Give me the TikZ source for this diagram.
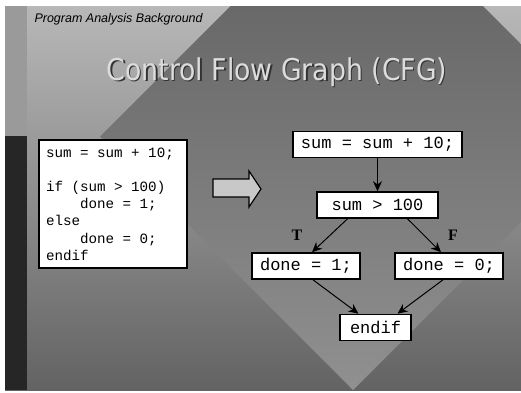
\documentclass[tikz,border=0pt]{standalone}
\usepackage{fontspec}
\setmainfont{Liberation Sans}
\setmonofont{Liberation Mono}
\newfontfamily\titlefont{DejaVu Sans}
\newfontfamily\branchfont{Liberation Serif}
\usetikzlibrary{arrows.meta}
\definecolor{slidelight}{RGB}{194,194,194}
\definecolor{slidedark}{RGB}{70,70,70}
\definecolor{diamtop}{RGB}{92,92,92}
\definecolor{diambot}{RGB}{144,144,144}
\definecolor{stripgray}{RGB}{154,154,154}
\definecolor{stripdark}{RGB}{38,38,38}
\definecolor{titlegray}{RGB}{220,220,220}
\definecolor{blockgray}{RGB}{200,200,200}
% align=left shrinks spaces, so the listing sets them back to full width
\newcommand\codespaces{\spaceskip=0.6em\xspaceskip=0.6em\relax}
\tikzset{
  titletext/.style={anchor=base, font=\titlefont\fontsize{30}{36}\selectfont},
  codebox/.style={draw=black, line width=1.6pt, fill=white, align=left,
    font=\ttfamily\fontsize{14.2}{17.2}\selectfont, text width=134pt,
    inner xsep=7pt, minimum height=128pt},
  cfgnode/.style={draw=black, line width=1.6pt, fill=white, inner xsep=8pt,
    minimum height=26pt, font=\ttfamily\fontsize{17}{20}\selectfont},
  cfgarr/.style={-{Stealth[length=10pt,width=9pt]}, line width=1pt},
  branch/.style={font=\branchfont\bfseries\fontsize{16}{19}\selectfont}
}

\begin{document}
\begin{tikzpicture}[x=1pt, y=-1pt]
\useasboundingbox (0,0) rectangle (521,392);
\fill[white] (0,0) rectangle (521,392);
% slide background: light-to-dark field with a rotated square on top
\begin{scope}
  \clip (5,6) rectangle (521,390);
  \shade[top color=slidelight, bottom color=slidedark] (5,-40) rectangle (521,520);
  \shade[top color=diamtop, bottom color=diambot]
    (100,136.5) -- (356.5,-120) -- (610,133) -- (353,390) -- cycle;
\end{scope}
\fill[stripgray] (5,6) rectangle (27,136);
\fill[stripdark] (5,136) rectangle (27,390);

\node[anchor=base west, font=\itshape\fontsize{12.5}{15}\selectfont] (subtitle) at (31,22) {Program Analysis Background};
\node[titletext, text=black!80] (titleshade) at (278.2,81.2) {\scalebox{0.89}[1]{Control Flow Graph (CFG)}};
\node[titletext, text=titlegray] (title) at (277,80) {\scalebox{0.89}[1]{Control Flow Graph (CFG)}};

% source code
\node[codebox] (source) at (113,204) {\codespaces sum = sum + 10;\\\mbox{}\\if (sum > 100)\\\hphantom{0000}done = 1;\\else\\\hphantom{0000}done = 0;\\endif};

% block arrow
\filldraw[fill=blockgray, draw=black, line width=1.2pt]
  (213,179) -- (249,179) -- (249,171) -- (261,189) -- (249,207) -- (249,197) -- (213,197) -- cycle;

% the graph
\node[cfgnode] (assign) at (377.5,144.5) {sum = sum + 10;};
\node[cfgnode, minimum width=121pt] (test) at (377.5,205) {sum > 100};
\node[cfgnode] (thenbr) at (306,266) {done = 1;};
\node[cfgnode] (elsebr) at (449,266) {done = 0;};
\node[cfgnode, minimum width=71pt] (join) at (375.5,327.5) {endif};

\draw[cfgarr] (assign) -- (test);
\draw[cfgarr] ([xshift=-30pt]test.south) -- ([xshift=6pt]thenbr.north);
\draw[cfgarr] ([xshift=30pt]test.south) -- ([xshift=-8pt]elsebr.north);
\draw[cfgarr] ([xshift=7pt]thenbr.south) -- ([xshift=-17pt]join.north);
\draw[cfgarr] ([xshift=-6pt]elsebr.south) -- ([xshift=22pt]join.north);

\node[branch] (tlabel) at (297,235) {T};
\node[branch] (flabel) at (453,235) {F};
\end{tikzpicture}
\end{document}
